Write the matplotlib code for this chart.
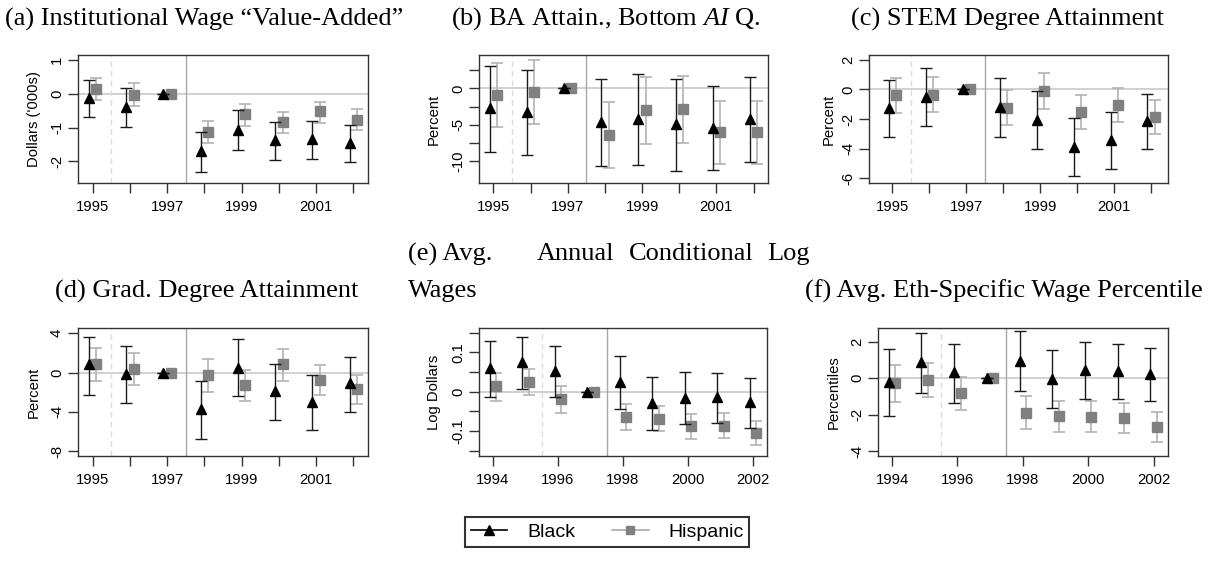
import numpy as np
import matplotlib as mpl
import matplotlib.pyplot as plt
from matplotlib.lines import Line2D

plt.rcParams.update({
    'font.family': 'Liberation Sans',
    'axes.unicode_minus': False,
    'mathtext.fontset': 'custom',
    'mathtext.rm': 'Liberation Serif',
    'mathtext.it': 'Liberation Serif:italic',
})

W, H = 1216, 567

# ---------------- data (point, upper, lower) ----------------
years_a = [1995, 1996, 1997, 1998, 1999, 2000, 2001, 2002]
years_e = [1994, 1995, 1996, 1997, 1998, 1999, 2000, 2001, 2002]

# (a) institutional wage value-added
a_blk = [-0.12, -0.385, 0.0, -1.70, -1.08, -1.38, -1.33, -1.45]
a_blk_hi = [0.42, 0.18, 0.0, -1.135, -0.49, -0.83, -0.79, -0.91]
a_blk_lo = [-0.70, -0.97, 0.0, -2.30, -1.65, -1.97, -1.92, -2.02]
a_his = [0.15, -0.03, 0.0, -1.12, -0.61, -0.84, -0.52, -0.77]
a_his_hi = [0.48, 0.31, 0.0, -0.79, -0.30, -0.53, -0.23, -0.46]
a_his_lo = [-0.18, -0.36, 0.0, -1.44, -0.95, -1.155, -0.85, -1.08]

# (b) BA attainment, bottom AI quartile
b_blk = [-2.76, -3.32, 0.0, -4.70, -4.19, -4.93, -5.48, -4.24]
b_blk_hi = [3.13, 2.49, 0.0, 1.34, 1.98, 1.34, 0.37, 1.52]
b_blk_lo = [-8.80, -9.12, 0.0, -10.74, -10.50, -11.34, -11.24, -10.14]
b_his = [-0.88, -0.50, 0.0, -6.40, -3.00, -2.90, -6.08, -6.08]
b_his_hi = [3.55, 3.87, 0.0, -1.84, 1.57, 1.66, -1.75, -1.75]
b_his_lo = [-5.30, -4.88, 0.0, -11.00, -7.60, -7.56, -10.37, -10.41]

# (c) STEM degree attainment
c_blk = [-1.28, -0.50, 0.0, -1.17, -2.07, -3.87, -3.42, -2.12]
c_blk_hi = [0.61, 1.44, 0.0, 0.79, -0.14, -1.96, -1.53, -0.29]
c_blk_lo = [-3.24, -2.45, 0.0, -3.18, -4.05, -5.81, -5.34, -4.03]
c_his = [-0.41, -0.36, 0.0, -1.24, -0.11, -1.49, -1.04, -1.87]
c_his_hi = [0.79, 0.81, 0.0, -0.05, 1.08, -0.36, 0.11, -0.72]
c_his_lo = [-1.62, -1.55, 0.0, -2.43, -1.31, -2.68, -2.21, -3.00]

# (d) grad degree attainment
d_blk = [0.84, -0.10, 0.0, -3.75, 0.51, -1.86, -3.00, -1.11]
d_blk_hi = [3.65, 2.74, 0.0, -0.84, 3.41, 0.91, -0.24, 1.59]
d_blk_lo = [-2.23, -3.14, 0.0, -6.72, -2.43, -4.80, -5.88, -3.99]
d_his = [0.88, 0.41, 0.0, -0.27, -1.28, 0.84, -0.78, -1.72]
d_his_hi = [2.50, 1.99, 0.0, 1.42, 0.30, 2.43, 0.78, -0.20]
d_his_lo = [-0.81, -1.28, 0.0, -1.96, -2.90, -0.81, -2.33, -3.21]

# (e) avg annual conditional log wages
e_blk = [0.060, 0.075, 0.054, 0.0, 0.025, -0.029, -0.016, -0.014, -0.027]
e_blk_hi = [0.130, 0.138, 0.117, 0.0, 0.090, 0.038, 0.050, 0.047, 0.036]
e_blk_lo = [-0.012, 0.006, -0.012, 0.0, -0.043, -0.097, -0.083, -0.080, -0.092]
e_his = [0.014, 0.025, -0.019, 0.0, -0.065, -0.068, -0.088, -0.086, -0.104]
e_his_hi = [0.049, 0.058, 0.014, 0.0, -0.031, -0.036, -0.056, -0.054, -0.073]
e_his_lo = [-0.023, -0.008, -0.053, 0.0, -0.097, -0.099, -0.120, -0.117, -0.136]

# (f) avg eth-specific wage percentile
f_blk = [-0.20, 0.86, 0.31, 0.0, 0.95, -0.04, 0.46, 0.37, 0.20]
f_blk_hi = [1.61, 2.49, 1.87, 0.0, 2.58, 1.54, 1.96, 1.87, 1.67]
f_blk_lo = [-2.07, -0.81, -1.34, 0.0, -0.70, -1.65, -1.12, -1.17, -1.28]
f_his = [-0.29, -0.09, -0.84, 0.0, -1.89, -2.07, -2.12, -2.20, -2.67]
f_his_hi = [0.73, 0.84, 0.09, 0.0, -0.99, -1.23, -1.26, -1.37, -1.88]
f_his_lo = [-1.32, -1.04, -1.76, 0.0, -2.78, -2.95, -2.97, -3.02, -3.48]

titles = ['(a) Institutional Wage \u201cValue-Added\u201d',
          '(b) BA Attain., Bottom $AI$ Q.',
          '(c) STEM Degree Attainment',
          '(d) Grad. Degree Attainment',
          None,
          '(f) Avg. Eth-Specific Wage Percentile']
ylabels = ["Dollars ('000s)", 'Percent', 'Percent', 'Percent', 'Log Dollars', 'Percentiles']

# ---------------- layout (pixels) ----------------
boxes = [(78, 55, 368, 183), (479, 55, 768, 183), (869, 55, 1168, 183),
         (78, 328, 368, 456), (479, 328, 767, 456), (878, 328, 1168, 456)]
xlims = [(1994.61, 2002.39), (1994.61, 2002.39), (1994.365, 2002.455),
         (1994.61, 2002.39), (1993.57, 2002.43), (1993.57, 2002.44)]
ylims = [(-2.636, 1.145), (-13.04, 4.6), (-6.31, 2.32),
         (-8.48, 4.53), (-0.163, 0.162), (-4.27, 2.75)]
yticks = [[-2, -1, 0, 1], [-10, -7.5, -5, -2.5, 0, 2.5], [-6, -4, -2, 0, 2],
          [-8, -4, 0, 4], [-0.15, -0.1, -0.05, 0, 0.05, 0.1, 0.15], [-4, -2, 0, 2]]
ylabs_shown = [{-2: '-2', -1: '-1', 0: '0', 1: '1'},
               {-10: '-10', -5: '-5', 0: '0'},
               {-6: '-6', -4: '-4', -2: '-2', 0: '0', 2: '2'},
               {-8: '-8', -4: '-4', 0: '0', 4: '4'},
               {-0.1: '-0.1', 0: '0', 0.1: '0.1'},
               {-4: '-4', -2: '-2', 0: '0', 2: '2'}]
ylab_dist = [43, 44, 39, 43, 44, 43]
title_pos = [(204, 19), (606, 19), (1007, 19), (207, 291), None, (1004, 291)]

series = [
    (years_a, a_blk, a_blk_hi, a_blk_lo, a_his, a_his_hi, a_his_lo),
    (years_a, b_blk, b_blk_hi, b_blk_lo, b_his, b_his_hi, b_his_lo),
    (years_a, c_blk, c_blk_hi, c_blk_lo, c_his, c_his_hi, c_his_lo),
    (years_a, d_blk, d_blk_hi, d_blk_lo, d_his, d_his_hi, d_his_lo),
    (years_e, e_blk, e_blk_hi, e_blk_lo, e_his, e_his_hi, e_his_lo),
    (years_e, f_blk, f_blk_hi, f_blk_lo, f_his, f_his_hi, f_his_lo),
]

blk_col = '#1a1a1a'
his_bar = '#b3b3b3'
his_pt = '#808080'
spine_col = '#333333'
title_size = 19

fig = plt.figure(figsize=(W / 100, H / 100), dpi=100)

for i, (yrs, bk, bk_hi, bk_lo, hs, hs_hi, hs_lo) in enumerate(series):
    x0, y0, x1, y1 = boxes[i]
    ax = fig.add_axes([x0 / W, 1 - y1 / H, (x1 - x0) / W, (y1 - y0) / H])
    yrs = np.array(yrs, dtype=float)
    bk, bk_hi, bk_lo = map(np.array, (bk, bk_hi, bk_lo))
    hs, hs_hi, hs_lo = map(np.array, (hs, hs_hi, hs_lo))

    ax.axhline(0, color='#c8c8c8', lw=1.2, zorder=1)
    ax.axvline(1995.5, color='#dcdcdc', lw=1.0, ls=(0, (4, 3)), zorder=1)
    ax.axvline(1997.5, color='#a8a8a8', lw=1.0, zorder=1)

    ax.errorbar(yrs + 0.1, hs, yerr=[hs - hs_lo, hs_hi - hs], fmt='s',
                color=his_pt, ecolor=his_bar, elinewidth=1.2, capsize=4.5,
                capthick=1.2, markersize=6.5, zorder=3)
    ax.errorbar(yrs - 0.1, bk, yerr=[bk - bk_lo, bk_hi - bk], fmt='^',
                color='black', ecolor=blk_col, elinewidth=1.0, capsize=4.5,
                capthick=1.0, markersize=7.5, zorder=4)

    ax.set_xlim(*xlims[i])
    ax.set_ylim(*ylims[i])
    if i < 4:
        ax.set_xticks(years_a)
        ax.set_xticklabels([str(y) if y % 2 == 1 else '' for y in years_a])
    else:
        xt = [1994, 1996, 1998, 2000, 2002]
        ax.set_xticks(xt)
        ax.set_xticklabels([str(y) for y in xt])
    ax.set_yticks(yticks[i])
    labs = []
    for t in yticks[i]:
        lab = ''
        for k, v in ylabs_shown[i].items():
            if abs(k - t) < 1e-9:
                lab = v
        labs.append(lab)
    ax.set_yticklabels(labs, rotation=90, va='center')

    ax.tick_params(axis='both', length=7, width=1.0, color=spine_col,
                   labelsize=10.7, labelcolor='black')
    ax.tick_params(axis='x', pad=5)
    ax.tick_params(axis='y', pad=3)
    for s in ax.spines.values():
        s.set_color(spine_col)
        s.set_linewidth(1.0)

    ax.set_ylabel(ylabels[i], fontsize=10.7)
    ax.yaxis.set_label_coords(-(ylab_dist[i] - 6) / (x1 - x0), 0.5)

    if titles[i] is not None:
        tx, ty = title_pos[i]
        fig.text(tx / W, 1 - ty / H, titles[i], ha='center', va='center',
                 family='Liberation Serif', fontsize=title_size)

# (e) title, justified over two lines
e_words = ['(e) Avg.', 'Annual', 'Conditional', 'Log']
e_word_x = [408, 537, 629, 767]
for wd, wx in zip(e_words, e_word_x):
    fig.text(wx / W, 1 - 254 / H, wd, ha='left', va='center',
             family='Liberation Serif', fontsize=title_size)
fig.text(408 / W, 1 - 291 / H, 'Wages', ha='left', va='center',
         family='Liberation Serif', fontsize=title_size)

handles = [Line2D([], [], color='black', marker='^', markersize=7, lw=1.2),
           Line2D([], [], color='#aaaaaa', marker='s', markersize=6,
                  markerfacecolor=his_pt, markeredgecolor=his_pt, lw=1.2)]
leg = fig.legend(handles, ['Black', 'Hispanic'], loc='center',
                 bbox_to_anchor=(607 / W, 1 - 532 / H), ncol=2, fontsize=14,
                 frameon=True, fancybox=False, edgecolor='black',
                 handlelength=1.9, handletextpad=1.0, columnspacing=1.9,
                 borderpad=0.3, borderaxespad=0)
leg.get_frame().set_linewidth(1.5)

plt.savefig('out.png', dpi=100)
